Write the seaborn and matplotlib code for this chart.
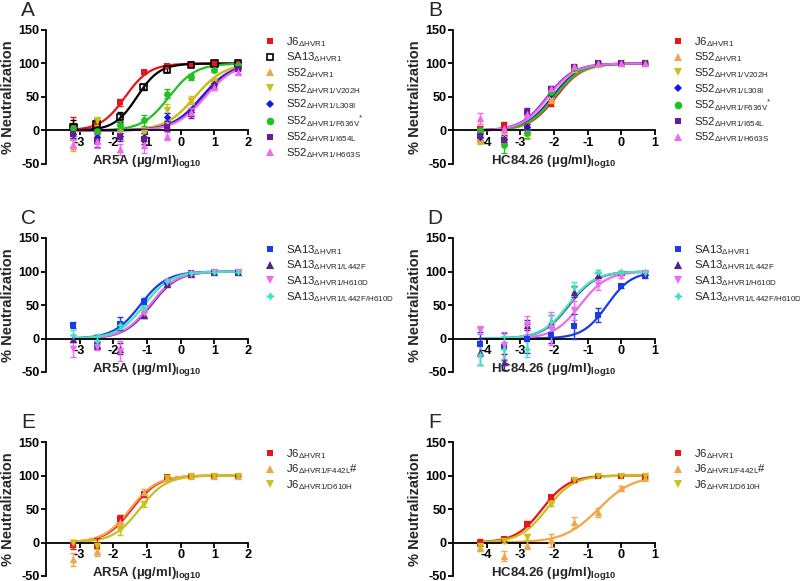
import numpy as np
import pandas as pd
import matplotlib
matplotlib.use("Agg")
import matplotlib.pyplot as plt
from matplotlib.lines import Line2D
import seaborn as sns

# ---------------- data ----------------
X_AR5A = [-3.19, -2.50, -1.80, -1.10, -0.40, 0.30, 1.00, 1.70]
X_HC84 = [-4.19, -3.50, -2.80, -2.10, -1.40, -0.70, 0.00, 0.70]
AR5A_TICKS = [-3, -2, -1, 0, 1, 2]
HC84_TICKS = [-4, -3, -2, -1, 0, 1]
Y_TICKS = [-50, 0, 50, 100, 150]

# Panel A (AR5A)
A_labels = [r"J6$_{\mathrm{ΔHVR1}}$", r"SA13$_{\mathrm{ΔHVR1}}$", r"S52$_{\mathrm{ΔHVR1}}$",
            r"S52$_{\mathrm{ΔHVR1/V202H}}$", r"S52$_{\mathrm{ΔHVR1/L308I}}$",
            r"S52$_{\mathrm{ΔHVR1/F636V}}$$^{*}$", r"S52$_{\mathrm{ΔHVR1/I654L}}$",
            r"S52$_{\mathrm{ΔHVR1/H663S}}$"]
A_values = [[6, 13, 42, 88, 97, 99, 100, 100],
            [5, 9, 20, 65, 91, 98, 100, 100],
            [-22, -8, -5, -6, 10, 45, 73, 96],
            [-5, 14, 5, -4, 30, 44, 72, 95],
            [-5, -10, -8, -10, 20, 28, 70, 93],
            [3, -1, 8, 15, 55, 80, 90, 98],
            [-5, -15, -10, -12, 5, 25, 67, 92],
            [-20, -16, -28, -22, -8, 28, 65, 88]]
A_errors = [[14, 6, 5, 3, 2, 2, 1, 1],
            [10, 6, 8, 4, 3, 2, 1, 1],
            [8, 6, 5, 5, 6, 6, 5, 2],
            [6, 6, 5, 5, 10, 5, 4, 2],
            [6, 8, 5, 6, 6, 6, 4, 2],
            [4, 3, 6, 8, 7, 4, 2, 1],
            [8, 10, 6, 8, 6, 6, 4, 2],
            [8, 10, 8, 12, 6, 6, 5, 3]]
A_logIC50 = [-1.65, -1.30, 0.42, 0.42, 0.62, -0.35, 0.68, 0.72]
A_hill = [1.2, 1.3, 1.0, 1.0, 1.0, 1.1, 1.0, 1.0]

# Panel B (HC84.26)
B_labels = [r"J6$_{\mathrm{ΔHVR1}}$", r"S52$_{\mathrm{ΔHVR1}}$",
            r"S52$_{\mathrm{ΔHVR1/V202H}}$", r"S52$_{\mathrm{ΔHVR1/L308I}}$",
            r"S52$_{\mathrm{ΔHVR1/F636V}}$$^{*}$", r"S52$_{\mathrm{ΔHVR1/I654L}}$",
            r"S52$_{\mathrm{ΔHVR1/H663S}}$"]
B_values = [[2, 8, 5, 40, 90, 100, 100, 100],
            [-12, -10, -2, 45, 92, 99, 100, 100],
            [-15, -13, -6, 50, 93, 99, 100, 100],
            [-10, -12, 5, 55, 94, 100, 100, 100],
            [0, -22, -3, 58, 93, 100, 100, 100],
            [-8, -14, 28, 62, 95, 100, 100, 100],
            [18, 4, 25, 63, 96, 100, 100, 100]]
B_errors = [[5, 5, 5, 4, 3, 1, 1, 1],
            [6, 6, 5, 4, 3, 1, 1, 1],
            [5, 5, 6, 4, 3, 1, 1, 1],
            [5, 5, 5, 4, 3, 1, 1, 1],
            [5, 12, 8, 4, 3, 1, 1, 1],
            [6, 6, 5, 4, 3, 1, 1, 1],
            [8, 6, 5, 4, 3, 1, 1, 1]]
B_logIC50 = [-1.95, -2.00, -2.02, -2.05, -2.00, -2.20, -2.17]
B_hill = [1.1, 1.1, 1.1, 1.1, 1.1, 1.1, 1.1]

# Panel C (AR5A)
C_labels = [r"SA13$_{\mathrm{ΔHVR1}}$", r"SA13$_{\mathrm{ΔHVR1/L442F}}$",
            r"SA13$_{\mathrm{ΔHVR1/H610D}}$", r"SA13$_{\mathrm{ΔHVR1/L442F/H610D}}$"]
C_values = [[20, -8, 22, 55, 85, 98, 100, 100],
            [0, -10, -15, 35, 82, 96, 100, 100],
            [-15, -12, -18, 38, 84, 97, 100, 100],
            [5, -3, 20, 45, 86, 98, 100, 100]]
C_errors = [[5, 5, 10, 5, 3, 2, 1, 1],
            [5, 5, 8, 5, 3, 2, 1, 1],
            [12, 5, 15, 5, 3, 2, 1, 1],
            [8, 10, 6, 5, 3, 2, 1, 1]]
C_logIC50 = [-1.20, -0.88, -0.92, -1.08]
C_hill = [1.1, 1.1, 1.1, 1.1]

# Panel D (HC84.26)
D_labels = C_labels
D_values = [[-8, -12, 0, 5, 18, 35, 78, 93],
            [-20, -35, 20, 25, 70, 95, 100, 100],
            [12, -10, 20, 15, 42, 80, 93, 98],
            [-25, -15, -15, 25, 77, 100, 100, 100]]
D_errors = [[18, 20, 22, 12, 18, 10, 3, 2],
            [20, 12, 8, 10, 8, 3, 1, 1],
            [6, 20, 14, 24, 14, 8, 3, 2],
            [15, 18, 12, 10, 8, 2, 1, 1]]
D_logIC50 = [-0.42, -1.55, -1.22, -1.58]
D_hill = [1.2, 1.1, 1.1, 1.1]

# Panel E (AR5A)
E_labels = [r"J6$_{\mathrm{ΔHVR1}}$", r"J6$_{\mathrm{ΔHVR1/F442L}}$#", r"J6$_{\mathrm{ΔHVR1/D610H}}$"]
E_values = [[-3, -5, 35, 72, 98, 100, 100, 100],
            [-25, -12, 30, 76, 97, 100, 100, 100],
            [0, -5, 18, 57, 96, 100, 100, 100]]
E_errors = [[6, 12, 6, 4, 2, 1, 1, 1],
            [10, 8, 8, 4, 2, 1, 1, 1],
            [4, 4, 7, 4, 2, 1, 1, 1]]
E_logIC50 = [-1.45, -1.50, -1.22]
E_hill = [1.1, 1.1, 1.1]

# Panel F (HC84.26)
F_labels = E_labels
F_values = [[0, 5, 28, 68, 93, 100, 100, 98],
            [-8, -20, -3, 3, 30, 45, 82, 97],
            [-5, 2, 8, 58, 93, 100, 100, 100]]
F_errors = [[5, 3, 4, 3, 2, 1, 1, 1],
            [5, 8, 6, 10, 8, 7, 2, 2],
            [4, 3, 4, 3, 2, 1, 1, 1]]
F_logIC50 = [-2.35, -0.68, -2.22]
F_hill = [1.1, 0.85, 1.1]

# ---------------- styles ----------------
RED, BLACK, ORANGE, OLIVE = "#e8161b", "#000000", "#f2a54a", "#c5c21a"
BLUE, GREEN, PURPLE, PINK = "#1515e6", "#22c022", "#6a1b9a", "#ee6aee"
SBLUE, INDIGO, AQUA = "#1a3be6", "#5b1f8c", "#3ee6c0"
A_style = [(RED, "s", True), (BLACK, "s", False), (ORANGE, "^", True), (OLIVE, "v", True),
           (BLUE, "D", True), (GREEN, "o", True), (PURPLE, "s", True), (PINK, "^", True)]
B_style = [(RED, "s", True), (ORANGE, "^", True), (OLIVE, "v", True), (BLUE, "D", True),
           (GREEN, "o", True), (PURPLE, "s", True), (PINK, "^", True)]
CD_style = [(SBLUE, "s", True), (INDIGO, "^", True), (PINK, "v", True), (AQUA, (4, 1, 0), True)]
EF_style = [(RED, "s", True), (ORANGE, "^", True), (OLIVE, "v", True)]

sns.set_theme(style="ticks")
plt.rcParams["font.family"] = ["Liberation Sans", "DejaVu Sans"]
plt.rcParams["mathtext.fontset"] = "custom"
plt.rcParams["mathtext.rm"] = "Liberation Sans"
plt.rcParams["mathtext.it"] = "Liberation Sans:italic"
plt.rcParams["mathtext.bf"] = "Liberation Sans:bold"
plt.rcParams["axes.unicode_minus"] = False

W, H = 800, 581
fig = plt.figure(figsize=(W / 100, H / 100), dpi=100)


def rect(l, r, t, b):
    return [l / W, 1 - b / H, (r - l) / W, (b - t) / H]


MSIZE = {"s": 22, "^": 28, "v": 28, "D": 14, "o": 24}


def panel(box, letter, xs, xlim, xticks, xname, labels, values, errors, ic50, hill, styles, leg_x):
    ax = fig.add_axes(rect(*box))
    handles = []
    for lab, yv, ev, lc, hs, (col, mk, filled) in zip(labels, values, errors, ic50, hill, styles):
        xf = np.linspace(xs[0], xs[-1], 200)
        yf = 100.0 / (1.0 + 10 ** ((lc - xf) * hs))
        sns.lineplot(x=xf, y=yf, color=col, lw=1.6, ax=ax, legend=False, zorder=2)
        ax.errorbar(xs, yv, yerr=ev, fmt="none", ecolor=col, elinewidth=1.0,
                    capsize=2.5, capthick=1.0, zorder=3)
        s = MSIZE.get(mk, 26) if isinstance(mk, str) else 30
        df = pd.DataFrame({"x": xs, "y": yv})
        if filled:
            sns.scatterplot(data=df, x="x", y="y", marker=mk, s=s, color=col,
                            edgecolor=col, linewidth=0, ax=ax, legend=False, zorder=4)
        else:
            ax.scatter(xs, yv, marker=mk, s=s, facecolors="none", edgecolors=col,
                       linewidths=1.2, zorder=4)
        ms = {"s": 5, "^": 6, "v": 6, "D": 4, "o": 5.5}.get(mk, 6.5) if isinstance(mk, str) else 6.5
        handles.append(Line2D([], [], linestyle="none", marker=mk, markersize=ms, color=col,
                              markerfacecolor=col if filled else "none",
                              markeredgecolor=col, markeredgewidth=1.2 if not filled else 0))
    ax.set_xlim(*xlim)
    ax.set_ylim(-50, 150)
    ax.set_yticks(Y_TICKS)
    ax.set_xticks(xticks)
    ax.spines["top"].set_visible(False)
    ax.spines["right"].set_visible(False)
    ax.spines["bottom"].set_position(("data", 0))
    for sp in ("left", "bottom"):
        ax.spines[sp].set_linewidth(1.3)
        ax.spines[sp].set_color("black")
    ax.tick_params(axis="both", direction="out", length=3.5, width=1.3, colors="black",
                   labelsize=9.2, pad=1.0)
    for t in ax.get_xticklabels() + ax.get_yticklabels():
        t.set_fontweight("bold")
    ax.set_xlabel("")
    ax.set_ylabel("% Neutralization", fontsize=10.5, fontweight="bold")
    ax.yaxis.set_label_coords(-0.155, 0.5)
    ax.text(0.5, 0.0, xname + r" (µg/ml)$_{\mathbf{log10}}$", transform=ax.transAxes,
            ha="center", va="baseline", fontsize=9.5, fontweight="bold")
    ax.grid(False)
    ax.set_facecolor("white")
    l, r, t, b = box
    fig.text((l - 18) / W, 1 - (t - 20) / H, letter, fontsize=15, ha="center", va="center")
    ax.legend(handles, labels, loc="upper left", bbox_to_anchor=(leg_x / W, 1 - (t + 5) / H),
              bbox_transform=fig.transFigure, frameon=False, fontsize=8.2,
              handlelength=1.0, handletextpad=0.9, borderpad=0, borderaxespad=0,
              labelspacing=0.16)
    return ax


panel((46, 248, 30, 164), "A", X_AR5A, (-4, 2), AR5A_TICKS, "AR5A", A_labels, A_values,
      A_errors, A_logIC50, A_hill, A_style, 264)
panel((453, 655, 30, 164), "B", X_HC84, (-5, 1), HC84_TICKS, "HC84.26", B_labels, B_values,
      B_errors, B_logIC50, B_hill, B_style, 672)
panel((46, 248, 238, 372), "C", X_AR5A, (-4, 2), AR5A_TICKS, "AR5A", C_labels, C_values,
      C_errors, C_logIC50, C_hill, CD_style, 264)
panel((453, 655, 238, 372), "D", X_HC84, (-5, 1), HC84_TICKS, "HC84.26", D_labels, D_values,
      D_errors, D_logIC50, D_hill, CD_style, 672)
panel((46, 248, 442, 576), "E", X_AR5A, (-4, 2), AR5A_TICKS, "AR5A", E_labels, E_values,
      E_errors, E_logIC50, E_hill, EF_style, 264)
panel((453, 655, 442, 576), "F", X_HC84, (-5, 1), HC84_TICKS, "HC84.26", F_labels, F_values,
      F_errors, F_logIC50, F_hill, EF_style, 672)

fig.savefig("out.png", dpi=100, facecolor="white")
